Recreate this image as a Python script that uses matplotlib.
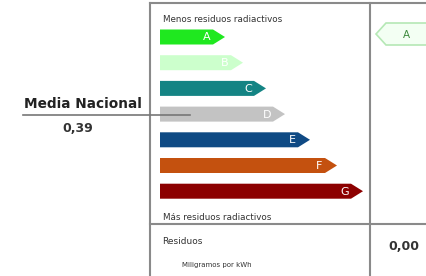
import matplotlib.pyplot as plt
from matplotlib.patches import Polygon

# energy-label style classes (radioactive waste)
classes = ["A", "B", "C", "D", "E", "F", "G"]
bar_len = [65, 83, 106, 125, 150, 177, 203]   # arrow length, px
colors = ["#1fe81f", "#ccffcc", "#148484", "#c3c3c3", "#0f4a84", "#c4510f", "#8c0000"]

media_label = "Media Nacional"
media_value = "0,39"
residuos_value = "0,00"
own_class = "A"

W, H = 427, 276
fig = plt.figure(figsize=(W / 100, H / 100), dpi=100)
ax = fig.add_axes([0, 0, 1, 1])
ax.set_xlim(0, W)
ax.set_ylim(H, 0)
ax.axis("off")

grid = "#8a8a8a"
# table frame
ax.plot([150, 150], [3, H], color=grid, lw=1.5)
ax.plot([150, W], [3, 3], color=grid, lw=1.5)
ax.plot([370, 370], [3, H], color=grid, lw=1.5)
ax.plot([150, W], [224, 224], color=grid, lw=1.5)

ax.text(163, 20, "Menos residuos radiactivos", fontsize=6.3, color="#333333", va="center")
ax.text(163, 217, "Más residuos radiactivos", fontsize=6.3, color="#333333", va="center")

x0, y0, step, h = 160, 37, 25.7, 15
for i, (c, L, col) in enumerate(zip(classes, bar_len, colors)):
    y = y0 + i * step
    tip = x0 + L
    body = tip - 12
    poly = Polygon([(x0, y - h / 2), (body, y - h / 2), (tip, y), (body, y + h / 2), (x0, y + h / 2)],
                   closed=True, facecolor=col, edgecolor="none")
    ax.add_patch(poly)
    ax.text(body - 6, y + 0.5, c, color="white", fontsize=8, ha="center", va="center")

# own class marker (pointing left)
ty = 34
tx = 376
tag = Polygon([(tx, ty), (tx + 10, ty - 11), (W + 5, ty - 11), (W + 5, ty + 11), (tx + 10, ty + 11)],
              closed=True, facecolor="#f3fff3", edgecolor="#b5e8b5", lw=1.2)
ax.add_patch(tag)
ax.text(406, ty + 1, own_class, color="#3c8a3c", fontsize=7.5, ha="center", va="center")

# national average
ax.text(83, 104, media_label, fontsize=9.8, fontweight="bold", color="#222222", ha="center", va="center")
ax.plot([23, 190], [115, 115], color="#777777", lw=1.2)
ax.text(78, 128, media_value, fontsize=9, fontweight="bold", color="#333333", ha="center", va="center")

# bottom row
ax.text(162, 241, "Residuos", fontsize=6.5, color="#333333", va="center")
ax.text(182, 265, "Miligramos por kWh", fontsize=5, color="#333333", va="center")
ax.text(404, 247, residuos_value, fontsize=9, fontweight="bold", color="#333333", ha="center", va="center")

fig.savefig("out.png", dpi=100)
